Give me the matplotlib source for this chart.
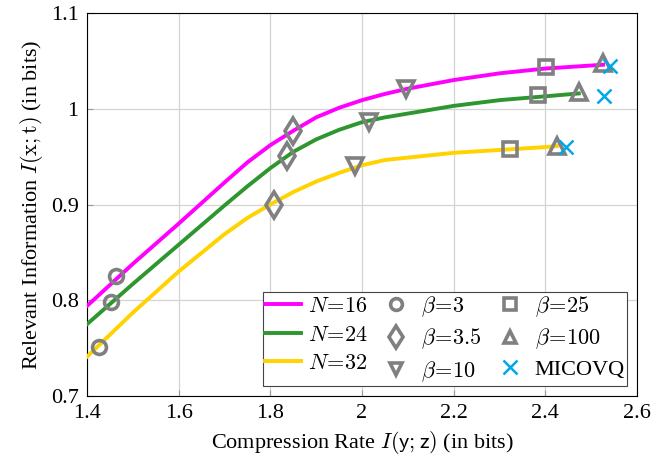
import matplotlib
matplotlib.use('Agg')
import matplotlib.pyplot as plt
from matplotlib.lines import Line2D

plt.rcParams['font.family'] = 'serif'
plt.rcParams['font.serif'] = ['Liberation Serif', 'DejaVu Serif']
plt.rcParams['mathtext.fontset'] = 'cm'
plt.rcParams['axes.unicode_minus'] = False

# curves
x_n16 = [1.40, 1.50, 1.60, 1.70, 1.75, 1.80, 1.85, 1.90, 1.95, 2.00, 2.05, 2.10, 2.20, 2.30, 2.40, 2.526]
y_n16 = [0.794, 0.838, 0.880, 0.923, 0.944, 0.962, 0.977, 0.991, 1.001, 1.009, 1.0155, 1.021, 1.030, 1.037, 1.042, 1.046]
x_n24 = [1.40, 1.50, 1.60, 1.70, 1.75, 1.80, 1.85, 1.90, 1.95, 2.00, 2.05, 2.10, 2.20, 2.30, 2.40, 2.473]
y_n24 = [0.775, 0.817, 0.858, 0.899, 0.919, 0.938, 0.955, 0.968, 0.978, 0.986, 0.991, 0.995, 1.003, 1.009, 1.013, 1.016]
x_n32 = [1.40, 1.50, 1.60, 1.70, 1.75, 1.80, 1.85, 1.90, 1.95, 2.00, 2.05, 2.10, 2.20, 2.30, 2.40, 2.425]
y_n32 = [0.741, 0.787, 0.830, 0.869, 0.886, 0.900, 0.913, 0.924, 0.933, 0.941, 0.9465, 0.949, 0.954, 0.957, 0.960, 0.961]

# beta points: 3, 3.5, 10, 25, 100
bx_n16 = [1.463, 1.850, 2.095, 2.401, 2.526]
by_n16 = [0.825, 0.977, 1.021, 1.044, 1.048]
bx_n24 = [1.452, 1.837, 2.016, 2.384, 2.473]
by_n24 = [0.798, 0.951, 0.986, 1.014, 1.017]
bx_n32 = [1.426, 1.809, 1.984, 2.322, 2.425]
by_n32 = [0.751, 0.900, 0.940, 0.958, 0.961]

# MICOVQ
mx = [2.541, 2.528, 2.445]
my = [1.045, 1.013, 0.960]

beta_labels = ['3', '3.5', '10', '25', '100']
beta_markers = ['o', 'd', 'v', 's', '^']
n_labels = ['16', '24', '32']
colors = ['#ff00ff', '#2e962e', '#ffd200']

xticks = [1.4, 1.6, 1.8, 2.0, 2.2, 2.4, 2.6]
xticklabels = ['1.4', '1.6', '1.8', '2', '2.2', '2.4', '2.6']
yticks = [0.7, 0.8, 0.9, 1.0, 1.1]
yticklabels = ['0.7', '0.8', '0.9', '1', '1.1']

gray = '#808080'
msizes = {'o': 10, 'd': 13, 'v': 11, 's': 9.5, '^': 11}
mew = 2.6
fs = 16

fig = plt.figure(figsize=(6.52, 4.70), dpi=100)
ax = fig.add_axes([0.1334, 0.1574, 0.8436, 0.8149])

curves = [(x_n16, y_n16), (x_n24, y_n24), (x_n32, y_n32)]
points = [(bx_n16, by_n16), (bx_n24, by_n24), (bx_n32, by_n32)]

for (cx, cy), c in zip(curves, colors):
    ax.plot(cx, cy, color=c, lw=2.8, zorder=3, solid_joinstyle='round')

for px, py in points:
    for xi, yi, m in zip(px, py, beta_markers):
        ax.plot([xi], [yi], marker=m, ms=msizes[m], mfc='none', mec=gray, mew=mew,
                ls='none', zorder=4)

ax.plot(mx, my, marker='x', ms=10, mew=1.8, color='#00a8e8', ls='none', zorder=5)

ax.set_xlim(1.4, 2.6)
ax.set_ylim(0.7, 1.1)
ax.set_xticks(xticks)
ax.set_xticklabels(xticklabels)
ax.set_yticks(yticks)
ax.set_yticklabels(yticklabels)
ax.tick_params(direction='in', length=4, color='#999999', labelsize=fs, pad=6)
ax.grid(True, color='#d4d4d4', lw=0.9)
ax.set_axisbelow(True)
for s in ax.spines.values():
    s.set_linewidth(0.8)

ax.set_xlabel(r'Compression Rate $I(\mathsf{y};\mathsf{z})$ (in bits)', fontsize=fs, labelpad=4)
ax.set_ylabel(r'Relevant Information $I(\mathrm{x};\mathrm{t})$ (in bits)', fontsize=fs, labelpad=4)

handles = []
labels = []
for n, c in zip(n_labels, colors):
    handles.append(Line2D([], [], color=c, lw=2.8))
    labels.append(r'$N\!=\!%s$' % n)
for b, m in zip(beta_labels, beta_markers):
    handles.append(Line2D([], [], marker=m, ms=msizes[m] * 0.85, mfc='none', mec=gray, mew=mew, ls='none'))
    labels.append(r'$\beta\!=\!%s$' % b)
handles.append(Line2D([], [], marker='x', ms=10, mew=1.8, color='#00a8e8', ls='none'))
labels.append('MICOVQ')

leg = ax.legend(handles, labels, ncol=3, loc='lower right', fontsize=fs,
                fancybox=False, edgecolor='#444444', framealpha=1,
                handlelength=1.6, handletextpad=0.3, columnspacing=0.5,
                labelspacing=0.35, borderaxespad=0.45, borderpad=0.1)
leg.get_frame().set_linewidth(0.8)
leg.set_zorder(6)

fig.savefig('out.png', dpi=100)
